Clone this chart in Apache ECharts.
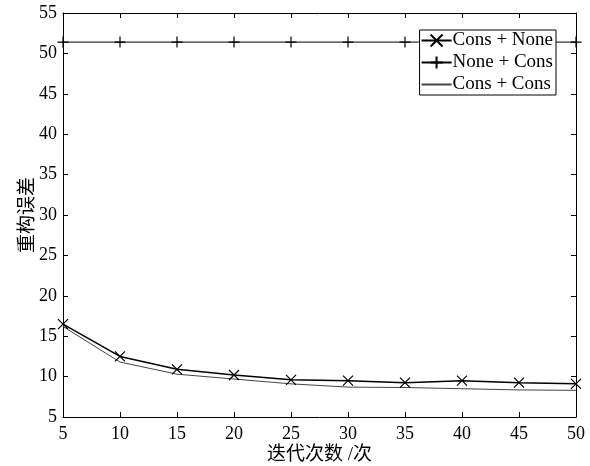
<!DOCTYPE html>
<html>
<head>
<meta charset="utf-8">
<script src="https://cdn.jsdelivr.net/npm/echarts@6/dist/echarts.min.js"></script>
<style>
  html, body { margin: 0; padding: 0; background: #fff; }
  #main { width: 590px; height: 466px; }
</style>
</head>
<body>
<div id="main"></div>
<script>
// 迭代次数
var iterList = [5, 10, 15, 20, 25, 30, 35, 40, 45, 50];
// 重构误差
var consNone = [16.5, 12.5, 10.9, 10.2, 9.6, 9.5, 9.25, 9.5, 9.25, 9.1];
var noneCons = [51.4, 51.4, 51.4, 51.4, 51.4, 51.4, 51.4, 51.4, 51.4, 51.4];
var consCons = [16.2, 11.8, 10.3, 9.7, 9.1, 8.7, 8.65, 8.5, 8.35, 8.3];
var seriesNames = ['Cons + None', 'None + Cons', 'Cons + Cons'];

var crossPath = 'path://M0,0 L10,10 M10,0 L0,10';
var plusPath = 'path://M5,0 L5,10 M0,5 L10,5';

function pairUp(arr) {
    var out = [];
    for (var i = 0; i < iterList.length; i++) {
        out.push([iterList[i], arr[i]]);
    }
    return out;
}

var serif = '"Liberation Serif", "Times New Roman", serif';
var cjk = '"Liberation Serif", "Noto Sans CJK SC", serif';

var myChart = echarts.init(document.getElementById('main'));

var option = {
    backgroundColor: '#fff',
    animation: false,
    grid: { left: 63, right: 14, top: 13, bottom: 49, outerBoundsMode: 'none', containLabel: false },
    legend: {
        orient: 'vertical',
        right: 34,
        top: 30,
        data: seriesNames,
        backgroundColor: '#fff',
        borderColor: '#000',
        borderWidth: 1,
        borderRadius: 0,
        padding: [1, 3, 1, 1],
        itemGap: 3,
        itemWidth: 30,
        itemHeight: 15,
        textStyle: { fontFamily: serif, fontSize: 19, color: '#000', padding: [0, 0, 0, -4] }
    },
    xAxis: [{
        type: 'value',
        min: 5, max: 50, interval: 5,
        name: '迭代次数 /次',
        nameLocation: 'middle',
        nameGap: 29,
        nameMoveOverlap: false,
        nameTextStyle: { fontFamily: cjk, fontSize: 19, color: '#000' },
        axisLine: { lineStyle: { color: '#000', width: 1 } },
        axisTick: { inside: true, length: 5, lineStyle: { color: '#000' } },
        axisLabel: { fontFamily: serif, fontSize: 18, color: '#000', margin: 8 },
        splitLine: { show: false }
    }, {
        type: 'value',
        position: 'top',
        min: 5, max: 50, interval: 5,
        axisLine: { lineStyle: { color: '#000', width: 1 } },
        axisTick: { inside: true, length: 5, lineStyle: { color: '#000' } },
        axisLabel: { show: false },
        splitLine: { show: false }
    }],
    yAxis: [{
        type: 'value',
        min: 5, max: 55, interval: 5,
        name: '重构误差',
        nameLocation: 'middle',
        nameGap: 25,
        nameMoveOverlap: false,
        nameTextStyle: { fontFamily: cjk, fontSize: 19, color: '#000' },
        axisLine: { show: true, lineStyle: { color: '#000', width: 1 } },
        axisTick: { show: true, inside: true, length: 5, lineStyle: { color: '#000' } },
        axisLabel: { fontFamily: serif, fontSize: 18, color: '#000', margin: 6 },
        splitLine: { show: false }
    }, {
        type: 'value',
        position: 'right',
        min: 5, max: 55, interval: 5,
        axisLine: { show: true, lineStyle: { color: '#000', width: 1 } },
        axisTick: { show: true, inside: true, length: 5, lineStyle: { color: '#000' } },
        axisLabel: { show: false },
        splitLine: { show: false }
    }],
    series: [{
        name: seriesNames[0],
        type: 'line',
        data: pairUp(consNone),
        symbol: crossPath,
        symbolSize: 10,
        showAllSymbol: true,
        color: '#000',
        lineStyle: { color: '#000', width: 1.5 },
        itemStyle: { color: 'rgba(0,0,0,0)', borderColor: '#000', borderWidth: 1.2 }
    }, {
        name: seriesNames[1],
        type: 'line',
        data: pairUp(noneCons),
        symbol: plusPath,
        symbolSize: 11,
        showAllSymbol: true,
        color: '#000',
        lineStyle: { color: '#000', width: 1 },
        itemStyle: { color: 'rgba(0,0,0,0)', borderColor: '#000', borderWidth: 1.2 }
    }, {
        name: seriesNames[2],
        type: 'line',
        data: pairUp(consCons),
        symbol: 'circle',
        showSymbol: false,
        color: '#444',
        lineStyle: { color: '#444', width: 1 },
        itemStyle: { color: 'rgba(0,0,0,0)', borderColor: 'rgba(0,0,0,0)', borderWidth: 0 }
    }]
};

myChart.setOption(option);
</script>
</body>
</html>
